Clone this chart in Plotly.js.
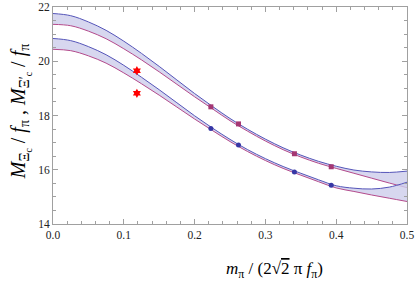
<!DOCTYPE html>
<html>
<head>
<meta charset="utf-8">
<script src="https://cdn.plot.ly/plotly-3.0.1.min.js"></script>
<style>html,body{margin:0;padding:0;background:#fff;}#chart{width:415px;height:283px;}</style>
</head>
<body>
<div id="chart"></div>
<script>
// sampled x grid of the bands
const xGrid = [0,0.025,0.05,0.075,0.1,0.125,0.15,0.175,0.2,0.225,0.25,0.275,0.3,0.325,0.35,0.375,0.4,0.425,0.45,0.475,0.5];
// Xi_c' band (upper)
const upperTop = [21.76,21.68,21.45,21.14,20.74,20.29,19.81,19.31,18.81,18.34,17.89,17.49,17.13,16.81,16.54,16.31,16.13,15.99,15.92,15.90,15.95];
const upperBot = [21.36,21.31,21.11,20.83,20.46,20.05,19.61,19.15,18.69,18.25,17.81,17.42,17.06,16.74,16.47,16.24,16.05,15.87,15.69,15.51,15.34];
// Xi_c band (lower)
const lowerTop = [20.84,20.76,20.54,20.24,19.85,19.41,18.95,18.47,17.99,17.54,17.12,16.74,16.41,16.12,15.87,15.63,15.41,15.32,15.29,15.36,15.54];
const lowerBot = [20.44,20.39,20.20,19.93,19.57,19.17,18.75,18.31,17.87,17.45,17.04,16.67,16.34,16.05,15.80,15.56,15.33,15.20,15.07,14.95,14.83];
// lattice points
const latX = [0.223,0.262,0.341,0.393];
const upperPts = [18.32,17.69,16.59,16.11];
const lowerPts = [17.52,16.91,15.92,15.43];
// experimental values
const expX = [0.1185,0.1185];
const expY = [19.65,18.82];

const blue = 'rgb(85,85,185)';
const pink = 'rgb(180,75,140)';
const fillc = 'rgba(205,205,235,0.8)';
const serif = '"Liberation Serif", "Times New Roman", serif';

function band(top, bot){
  return [
    {x:xGrid, y:bot, mode:'lines', line:{color:pink, width:1, shape:'spline'}, hoverinfo:'skip', showlegend:false},
    {x:xGrid, y:top, mode:'lines', line:{color:blue, width:1, shape:'spline'}, fill:'tonexty', fillcolor:fillc, hoverinfo:'skip', showlegend:false}
  ];
}

const data = [].concat(
  band(upperTop, upperBot),
  band(lowerTop, lowerBot),
  [
    {x:latX, y:upperPts, mode:'markers', marker:{symbol:'square', size:5, color:'rgb(165,55,115)'}, showlegend:false},
    {x:latX, y:lowerPts, mode:'markers', marker:{symbol:'circle', size:5, color:'rgb(55,55,165)'}, showlegend:false},
    {x:expX, y:expY, mode:'markers', marker:{symbol:'hexagram', size:7, color:'rgb(255,0,0)'}, showlegend:false}
  ]
);

const axisCommon = {
  showline:true, linecolor:'rgb(160,160,160)', linewidth:1, mirror:'ticks',
  ticks:'inside', ticklen:5, tickcolor:'rgb(160,160,160)', tickwidth:1,
  showgrid:false, zeroline:false,
  tickfont:{family:serif, size:11.5, color:'#222'}
};

const layout = {
  width:415, height:283,
  margin:{l:53, r:8, t:7, b:59},
  font:{family:serif},
  paper_bgcolor:'#fff', plot_bgcolor:'#fff',
  xaxis: Object.assign({}, axisCommon, {range:[0,0.5], dtick:0.1, tick0:0, tickformat:'.1f',
    minor:{ticks:'inside', ticklen:3, dtick:0.02, tickcolor:'rgb(160,160,160)', showgrid:false}}),
  yaxis: Object.assign({}, axisCommon, {range:[14,22], dtick:2, tick0:14,
    minor:{ticks:'inside', ticklen:3, dtick:0.5, tickcolor:'rgb(160,160,160)', showgrid:false}}),
  annotations:[
    {xref:'paper', yref:'paper', x:0.627, y:-0.212, xanchor:'center', yanchor:'middle', showarrow:false,
     text:"<i>m</i><sub>π</sub> / (2√<span style='text-decoration:overline'>2</span> π <i>f</i><sub>π</sub>)",
     font:{family:serif, size:17, color:'#000'}},
    {xref:'paper', yref:'paper', x:-0.093, y:0.52, xanchor:'center', yanchor:'middle', showarrow:false, textangle:-90,
     text:"<i>M</i><sub>Ξ<sub>c</sub></sub> / <i>f</i><sub>π</sub> , <i>M</i><sub>Ξ′<sub>c</sub></sub> / <i>f</i><sub>π</sub>",
     font:{family:serif, size:20, color:'#000'}}
  ]
};

Plotly.newPlot('chart', data, layout, {displayModeBar:false, staticPlot:true});
</script>
</body>
</html>
